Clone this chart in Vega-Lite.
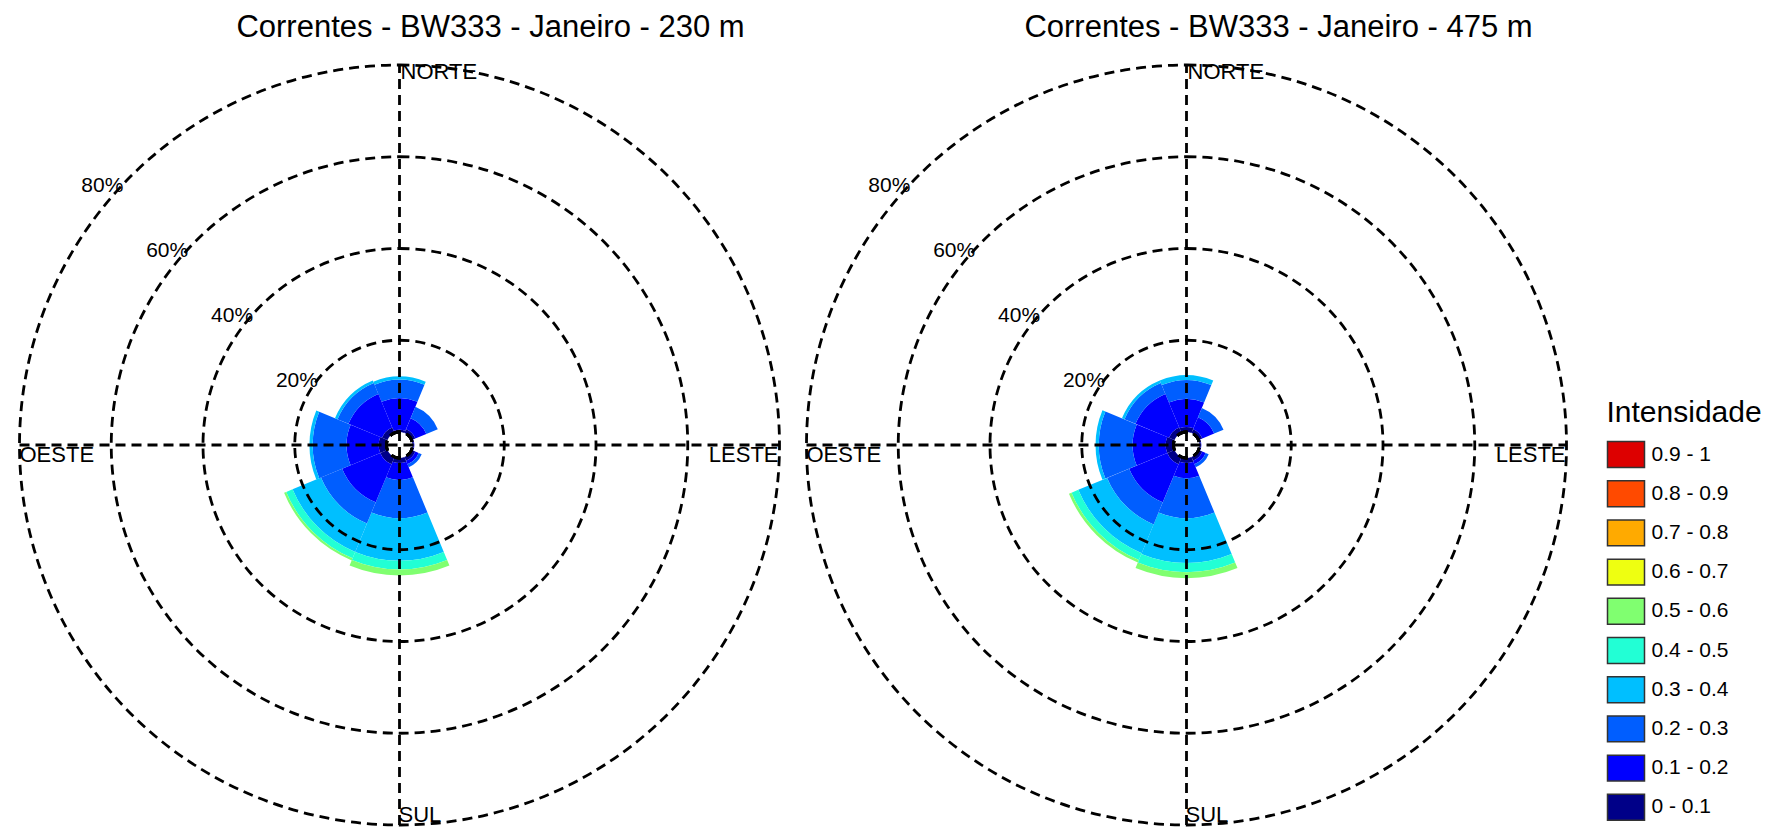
{
  "$schema": "https://vega.github.io/schema/vega-lite/v6.json",
  "background": "white",
  "padding": {"left": 13.5, "top": 11, "right": 0, "bottom": 0},
  "config": {"view": {"stroke": null}, "font": "Liberation Sans"},
  "spacing": 15,
  "resolve": {"scale": {"color": "shared"}},
  "datasets": {
    "rose": [
      {"depth": "230 m", "dir": 0, "cls": "0 - 0.1", "ord": 0, "pct": 0.5},
      {"depth": "230 m", "dir": 0, "cls": "0.1 - 0.2", "ord": 1, "pct": 6.9},
      {"depth": "230 m", "dir": 0, "cls": "0.2 - 0.3", "ord": 2, "pct": 4.0},
      {"depth": "230 m", "dir": 0, "cls": "0.3 - 0.4", "ord": 3, "pct": 0.7},
      {"depth": "230 m", "dir": 45, "cls": "0 - 0.1", "ord": 0, "pct": 0.9},
      {"depth": "230 m", "dir": 45, "cls": "0.1 - 0.2", "ord": 1, "pct": 2.6},
      {"depth": "230 m", "dir": 45, "cls": "0.2 - 0.3", "ord": 2, "pct": 2.7},
      {"depth": "230 m", "dir": 90, "cls": "0 - 0.1", "ord": 0, "pct": 0.3},
      {"depth": "230 m", "dir": 90, "cls": "0.1 - 0.2", "ord": 1, "pct": 0.1},
      {"depth": "230 m", "dir": 135, "cls": "0 - 0.1", "ord": 0, "pct": 0.9},
      {"depth": "230 m", "dir": 135, "cls": "0.1 - 0.2", "ord": 1, "pct": 0.8},
      {"depth": "230 m", "dir": 135, "cls": "0.2 - 0.3", "ord": 2, "pct": 0.7},
      {"depth": "230 m", "dir": 180, "cls": "0 - 0.1", "ord": 0, "pct": 1.1},
      {"depth": "230 m", "dir": 180, "cls": "0.1 - 0.2", "ord": 1, "pct": 3.7},
      {"depth": "230 m", "dir": 180, "cls": "0.2 - 0.3", "ord": 2, "pct": 8.3},
      {"depth": "230 m", "dir": 180, "cls": "0.3 - 0.4", "ord": 3, "pct": 9.3},
      {"depth": "230 m", "dir": 180, "cls": "0.4 - 0.5", "ord": 4, "pct": 1.9},
      {"depth": "230 m", "dir": 180, "cls": "0.5 - 0.6", "ord": 5, "pct": 1.3},
      {"depth": "230 m", "dir": 225, "cls": "0 - 0.1", "ord": 0, "pct": 1.7},
      {"depth": "230 m", "dir": 225, "cls": "0.1 - 0.2", "ord": 1, "pct": 9.0},
      {"depth": "230 m", "dir": 225, "cls": "0.2 - 0.3", "ord": 2, "pct": 5.0},
      {"depth": "230 m", "dir": 225, "cls": "0.3 - 0.4", "ord": 3, "pct": 6.7},
      {"depth": "230 m", "dir": 225, "cls": "0.4 - 0.5", "ord": 4, "pct": 1.5},
      {"depth": "230 m", "dir": 225, "cls": "0.5 - 0.6", "ord": 5, "pct": 0.5},
      {"depth": "230 m", "dir": 270, "cls": "0 - 0.1", "ord": 0, "pct": 1.7},
      {"depth": "230 m", "dir": 270, "cls": "0.1 - 0.2", "ord": 1, "pct": 7.0},
      {"depth": "230 m", "dir": 270, "cls": "0.2 - 0.3", "ord": 2, "pct": 7.4},
      {"depth": "230 m", "dir": 270, "cls": "0.3 - 0.4", "ord": 3, "pct": 0.7},
      {"depth": "230 m", "dir": 315, "cls": "0 - 0.1", "ord": 0, "pct": 1.3},
      {"depth": "230 m", "dir": 315, "cls": "0.1 - 0.2", "ord": 1, "pct": 7.9},
      {"depth": "230 m", "dir": 315, "cls": "0.2 - 0.3", "ord": 2, "pct": 2.6},
      {"depth": "230 m", "dir": 315, "cls": "0.3 - 0.4", "ord": 3, "pct": 0.6},
      {"depth": "475 m", "dir": 0, "cls": "0 - 0.1", "ord": 0, "pct": 1.1},
      {"depth": "475 m", "dir": 0, "cls": "0.1 - 0.2", "ord": 1, "pct": 6.1},
      {"depth": "475 m", "dir": 0, "cls": "0.2 - 0.3", "ord": 2, "pct": 4.1},
      {"depth": "475 m", "dir": 0, "cls": "0.3 - 0.4", "ord": 3, "pct": 1.1},
      {"depth": "475 m", "dir": 45, "cls": "0 - 0.1", "ord": 0, "pct": 0.9},
      {"depth": "475 m", "dir": 45, "cls": "0.1 - 0.2", "ord": 1, "pct": 2.8},
      {"depth": "475 m", "dir": 45, "cls": "0.2 - 0.3", "ord": 2, "pct": 2.2},
      {"depth": "475 m", "dir": 90, "cls": "0 - 0.1", "ord": 0, "pct": 0.3},
      {"depth": "475 m", "dir": 90, "cls": "0.1 - 0.2", "ord": 1, "pct": 0.1},
      {"depth": "475 m", "dir": 135, "cls": "0 - 0.1", "ord": 0, "pct": 0.9},
      {"depth": "475 m", "dir": 135, "cls": "0.1 - 0.2", "ord": 1, "pct": 0.8},
      {"depth": "475 m", "dir": 135, "cls": "0.2 - 0.3", "ord": 2, "pct": 0.7},
      {"depth": "475 m", "dir": 180, "cls": "0 - 0.1", "ord": 0, "pct": 1.1},
      {"depth": "475 m", "dir": 180, "cls": "0.1 - 0.2", "ord": 1, "pct": 3.3},
      {"depth": "475 m", "dir": 180, "cls": "0.2 - 0.3", "ord": 2, "pct": 8.7},
      {"depth": "475 m", "dir": 180, "cls": "0.3 - 0.4", "ord": 3, "pct": 9.8},
      {"depth": "475 m", "dir": 180, "cls": "0.4 - 0.5", "ord": 4, "pct": 2.0},
      {"depth": "475 m", "dir": 180, "cls": "0.5 - 0.6", "ord": 5, "pct": 1.3},
      {"depth": "475 m", "dir": 225, "cls": "0 - 0.1", "ord": 0, "pct": 1.7},
      {"depth": "475 m", "dir": 225, "cls": "0.1 - 0.2", "ord": 1, "pct": 9.0},
      {"depth": "475 m", "dir": 225, "cls": "0.2 - 0.3", "ord": 2, "pct": 5.2},
      {"depth": "475 m", "dir": 225, "cls": "0.3 - 0.4", "ord": 3, "pct": 6.8},
      {"depth": "475 m", "dir": 225, "cls": "0.4 - 0.5", "ord": 4, "pct": 1.6},
      {"depth": "475 m", "dir": 225, "cls": "0.5 - 0.6", "ord": 5, "pct": 0.6},
      {"depth": "475 m", "dir": 270, "cls": "0 - 0.1", "ord": 0, "pct": 1.7},
      {"depth": "475 m", "dir": 270, "cls": "0.1 - 0.2", "ord": 1, "pct": 7.2},
      {"depth": "475 m", "dir": 270, "cls": "0.2 - 0.3", "ord": 2, "pct": 7.4},
      {"depth": "475 m", "dir": 270, "cls": "0.3 - 0.4", "ord": 3, "pct": 0.7},
      {"depth": "475 m", "dir": 315, "cls": "0 - 0.1", "ord": 0, "pct": 1.3},
      {"depth": "475 m", "dir": 315, "cls": "0.1 - 0.2", "ord": 1, "pct": 7.9},
      {"depth": "475 m", "dir": 315, "cls": "0.2 - 0.3", "ord": 2, "pct": 2.6},
      {"depth": "475 m", "dir": 315, "cls": "0.3 - 0.4", "ord": 3, "pct": 0.6}
    ],
    "rings": [
      {"ring": 20, "label": "20%"},
      {"ring": 40, "label": "40%"},
      {"ring": 60, "label": "60%"},
      {"ring": 80, "label": "80%"}
    ],
    "dirs": [
      {"name": "NORTE"}, {"name": "SUL"}, {"name": "LESTE"}, {"name": "OESTE"}
    ]
  },
  "hconcat": [
    {
      "width": 760, "height": 760,
      "title": {"text": "Correntes - BW333 - Janeiro - 230 m", "fontSize": 31, "fontWeight": "normal", "font": "Liberation Sans", "color": "black", "dx": 91, "offset": 15.5, "anchor": "middle"},
      "layer": [
        {
          "data": {"name": "rose"},
          "transform": [
            {"filter": "datum.depth === '230 m'"},
            {"stack": "pct", "groupby": ["dir"], "sort": [{"field": "ord", "order": "ascending"}], "as": ["r0", "r1"]},
            {"calculate": "datum.dir - 22.5", "as": "a0"},
            {"calculate": "datum.dir + 22.5", "as": "a1"}
          ],
          "mark": {"type": "arc", "strokeWidth": 0},
          "encoding": {
            "theta": {"field": "a0", "type": "quantitative", "stack": null, "scale": {"type": "linear", "domain": [0, 360], "range": [0, 6.2832]}},
            "theta2": {"field": "a1"},
            "radius": {"field": "r1", "type": "quantitative", "stack": null, "scale": {"type": "linear", "domain": [0, 80], "range": [13, 380], "zero": false}},
            "radius2": {"field": "r0"},
            "color": {
              "field": "cls", "type": "nominal",
              "scale": {
                "domain": ["0.9 - 1", "0.8 - 0.9", "0.7 - 0.8", "0.6 - 0.7", "0.5 - 0.6", "0.4 - 0.5", "0.3 - 0.4", "0.2 - 0.3", "0.1 - 0.2", "0 - 0.1"],
                "range": ["#DD0000", "#FF4A00", "#FFAA00", "#EEFF11", "#80FF70", "#22FFD5", "#00BFFF", "#005EFF", "#0000FF", "#000088"]
              },
              "legend": {"orient": "none", "legendX": 1587, "legendY": 333, "title": "Intensidade", "titleFontSize": 30, "titleFontWeight": "normal", "titleFont": "Liberation Sans", "titleColor": "black", "titlePadding": 7, "labelFontSize": 21, "labelFont": "Liberation Sans", "labelColor": "black", "labelOffset": 6, "symbolType": "M-1,-0.7H1V0.7H-1Z", "symbolSize": 1369, "symbolStrokeColor": "#333333", "symbolStrokeWidth": 1.5, "symbolOpacity": 1, "rowPadding": 3.2, "padding": 0, "labelLimit": 300, "titleLimit": 300}
            }
          }
        },
        {
          "data": {"name": "rings"},
          "mark": {"type": "arc", "filled": false, "stroke": "black", "strokeWidth": 2.8, "strokeDash": [10, 6]},
          "encoding": {
            "theta": {"datum": 0, "type": "quantitative", "stack": null, "scale": {"type": "linear", "domain": [0, 360], "range": [0, 6.2832]}},
            "theta2": {"datum": 360},
            "radius": {"field": "ring", "type": "quantitative", "stack": null, "scale": {"type": "linear", "domain": [0, 80], "range": [13, 380], "zero": false}}
          }
        },
        {
          "data": {"values": [{}]},
          "mark": {"type": "rule", "stroke": "black", "strokeWidth": 2.8, "strokeDash": [10, 6]},
          "encoding": {
            "x": {"datum": -1, "type": "quantitative", "scale": {"domain": [-1, 1]}, "axis": null},
            "x2": {"datum": 1},
            "y": {"datum": 0, "type": "quantitative", "scale": {"domain": [-1, 1]}, "axis": null}
          }
        },
        {
          "data": {"values": [{}]},
          "mark": {"type": "rule", "stroke": "black", "strokeWidth": 2.8, "strokeDash": [10, 6]},
          "encoding": {
            "x": {"datum": 0, "type": "quantitative", "scale": {"domain": [-1, 1]}, "axis": null},
            "y": {"datum": -1, "type": "quantitative", "scale": {"domain": [-1, 1]}, "axis": null},
            "y2": {"datum": 1}
          }
        },
        {
          "data": {"values": [{}]},
          "mark": {"type": "arc", "fill": "white", "strokeWidth": 0},
          "encoding": {
            "theta": {"datum": 0, "type": "quantitative", "stack": null, "scale": {"type": "linear", "domain": [0, 360], "range": [0, 6.2832]}},
            "theta2": {"datum": 360},
            "radius": {"datum": 0, "type": "quantitative", "stack": null, "scale": {"type": "linear", "domain": [0, 80], "range": [13, 380], "zero": false}}
          }
        },
        {
          "data": {"name": "rings"},
          "mark": {"type": "text", "align": "right", "baseline": "middle", "dx": -7.5, "dy": 10, "fontSize": 21, "color": "black"},
          "encoding": {
            "theta": {"datum": 315, "type": "quantitative", "scale": {"type": "linear", "domain": [0, 360], "range": [0, 6.2832]}},
            "radius": {"field": "ring", "type": "quantitative", "scale": {"type": "linear", "domain": [0, 80], "range": [13, 380], "zero": false}},
            "text": {"field": "label"}
          }
        },
        {
          "data": {"name": "dirs"},
          "transform": [{"filter": "datum.name === 'NORTE'"}],
          "mark": {"type": "text", "align": "left", "baseline": "top", "dx": 1, "dy": -3, "fontSize": 22, "color": "black"},
          "encoding": {
            "theta": {"datum": 0, "type": "quantitative", "scale": {"type": "linear", "domain": [0, 360], "range": [0, 6.2832]}},
            "radius": {"datum": 80, "type": "quantitative", "scale": {"type": "linear", "domain": [0, 80], "range": [13, 380], "zero": false}},
            "text": {"field": "name"}
          }
        },
        {
          "data": {"name": "dirs"},
          "transform": [{"filter": "datum.name === 'SUL'"}],
          "mark": {"type": "text", "align": "left", "baseline": "bottom", "dx": -1, "dy": 1.5, "fontSize": 22, "color": "black"},
          "encoding": {
            "theta": {"datum": 180, "type": "quantitative", "scale": {"type": "linear", "domain": [0, 360], "range": [0, 6.2832]}},
            "radius": {"datum": 80, "type": "quantitative", "scale": {"type": "linear", "domain": [0, 80], "range": [13, 380], "zero": false}},
            "text": {"field": "name"}
          }
        },
        {
          "data": {"name": "dirs"},
          "transform": [{"filter": "datum.name === 'LESTE'"}],
          "mark": {"type": "text", "align": "right", "baseline": "top", "dx": -1, "dy": 0, "fontSize": 22, "color": "black"},
          "encoding": {
            "theta": {"datum": 90, "type": "quantitative", "scale": {"type": "linear", "domain": [0, 360], "range": [0, 6.2832]}},
            "radius": {"datum": 80, "type": "quantitative", "scale": {"type": "linear", "domain": [0, 80], "range": [13, 380], "zero": false}},
            "text": {"field": "name"}
          }
        },
        {
          "data": {"name": "dirs"},
          "transform": [{"filter": "datum.name === 'OESTE'"}],
          "mark": {"type": "text", "align": "left", "baseline": "top", "dx": 0, "dy": 0, "fontSize": 22, "color": "black"},
          "encoding": {
            "theta": {"datum": 270, "type": "quantitative", "scale": {"type": "linear", "domain": [0, 360], "range": [0, 6.2832]}},
            "radius": {"datum": 80, "type": "quantitative", "scale": {"type": "linear", "domain": [0, 80], "range": [13, 380], "zero": false}},
            "text": {"field": "name"}
          }
        }
      ]
    },
    {
      "width": 760, "height": 760,
      "title": {"text": "Correntes - BW333 - Janeiro - 475 m", "fontSize": 31, "fontWeight": "normal", "font": "Liberation Sans", "color": "black", "dx": 92, "offset": 15.5, "anchor": "middle"},
      "layer": [
        {
          "data": {"name": "rose"},
          "transform": [
            {"filter": "datum.depth === '475 m'"},
            {"stack": "pct", "groupby": ["dir"], "sort": [{"field": "ord", "order": "ascending"}], "as": ["r0", "r1"]},
            {"calculate": "datum.dir - 22.5", "as": "a0"},
            {"calculate": "datum.dir + 22.5", "as": "a1"}
          ],
          "mark": {"type": "arc", "strokeWidth": 0},
          "encoding": {
            "theta": {"field": "a0", "type": "quantitative", "stack": null, "scale": {"type": "linear", "domain": [0, 360], "range": [0, 6.2832]}},
            "theta2": {"field": "a1"},
            "radius": {"field": "r1", "type": "quantitative", "stack": null, "scale": {"type": "linear", "domain": [0, 80], "range": [13, 380], "zero": false}},
            "radius2": {"field": "r0"},
            "color": {
              "field": "cls", "type": "nominal",
              "scale": {
                "domain": ["0.9 - 1", "0.8 - 0.9", "0.7 - 0.8", "0.6 - 0.7", "0.5 - 0.6", "0.4 - 0.5", "0.3 - 0.4", "0.2 - 0.3", "0.1 - 0.2", "0 - 0.1"],
                "range": ["#DD0000", "#FF4A00", "#FFAA00", "#EEFF11", "#80FF70", "#22FFD5", "#00BFFF", "#005EFF", "#0000FF", "#000088"]
              },
              "legend": {"orient": "none", "legendX": 1587, "legendY": 333, "title": "Intensidade", "titleFontSize": 30, "titleFontWeight": "normal", "titleFont": "Liberation Sans", "titleColor": "black", "titlePadding": 7, "labelFontSize": 21, "labelFont": "Liberation Sans", "labelColor": "black", "labelOffset": 6, "symbolType": "M-1,-0.7H1V0.7H-1Z", "symbolSize": 1369, "symbolStrokeColor": "#333333", "symbolStrokeWidth": 1.5, "symbolOpacity": 1, "rowPadding": 3.2, "padding": 0, "labelLimit": 300, "titleLimit": 300}
            }
          }
        },
        {
          "data": {"name": "rings"},
          "mark": {"type": "arc", "filled": false, "stroke": "black", "strokeWidth": 2.8, "strokeDash": [10, 6]},
          "encoding": {
            "theta": {"datum": 0, "type": "quantitative", "stack": null, "scale": {"type": "linear", "domain": [0, 360], "range": [0, 6.2832]}},
            "theta2": {"datum": 360},
            "radius": {"field": "ring", "type": "quantitative", "stack": null, "scale": {"type": "linear", "domain": [0, 80], "range": [13, 380], "zero": false}}
          }
        },
        {
          "data": {"values": [{}]},
          "mark": {"type": "rule", "stroke": "black", "strokeWidth": 2.8, "strokeDash": [10, 6]},
          "encoding": {
            "x": {"datum": -1, "type": "quantitative", "scale": {"domain": [-1, 1]}, "axis": null},
            "x2": {"datum": 1},
            "y": {"datum": 0, "type": "quantitative", "scale": {"domain": [-1, 1]}, "axis": null}
          }
        },
        {
          "data": {"values": [{}]},
          "mark": {"type": "rule", "stroke": "black", "strokeWidth": 2.8, "strokeDash": [10, 6]},
          "encoding": {
            "x": {"datum": 0, "type": "quantitative", "scale": {"domain": [-1, 1]}, "axis": null},
            "y": {"datum": -1, "type": "quantitative", "scale": {"domain": [-1, 1]}, "axis": null},
            "y2": {"datum": 1}
          }
        },
        {
          "data": {"values": [{}]},
          "mark": {"type": "arc", "fill": "white", "strokeWidth": 0},
          "encoding": {
            "theta": {"datum": 0, "type": "quantitative", "stack": null, "scale": {"type": "linear", "domain": [0, 360], "range": [0, 6.2832]}},
            "theta2": {"datum": 360},
            "radius": {"datum": 0, "type": "quantitative", "stack": null, "scale": {"type": "linear", "domain": [0, 80], "range": [13, 380], "zero": false}}
          }
        },
        {
          "data": {"name": "rings"},
          "mark": {"type": "text", "align": "right", "baseline": "middle", "dx": -7.5, "dy": 10, "fontSize": 21, "color": "black"},
          "encoding": {
            "theta": {"datum": 315, "type": "quantitative", "scale": {"type": "linear", "domain": [0, 360], "range": [0, 6.2832]}},
            "radius": {"field": "ring", "type": "quantitative", "scale": {"type": "linear", "domain": [0, 80], "range": [13, 380], "zero": false}},
            "text": {"field": "label"}
          }
        },
        {
          "data": {"name": "dirs"},
          "transform": [{"filter": "datum.name === 'NORTE'"}],
          "mark": {"type": "text", "align": "left", "baseline": "top", "dx": 1, "dy": -3, "fontSize": 22, "color": "black"},
          "encoding": {
            "theta": {"datum": 0, "type": "quantitative", "scale": {"type": "linear", "domain": [0, 360], "range": [0, 6.2832]}},
            "radius": {"datum": 80, "type": "quantitative", "scale": {"type": "linear", "domain": [0, 80], "range": [13, 380], "zero": false}},
            "text": {"field": "name"}
          }
        },
        {
          "data": {"name": "dirs"},
          "transform": [{"filter": "datum.name === 'SUL'"}],
          "mark": {"type": "text", "align": "left", "baseline": "bottom", "dx": -1, "dy": 1.5, "fontSize": 22, "color": "black"},
          "encoding": {
            "theta": {"datum": 180, "type": "quantitative", "scale": {"type": "linear", "domain": [0, 360], "range": [0, 6.2832]}},
            "radius": {"datum": 80, "type": "quantitative", "scale": {"type": "linear", "domain": [0, 80], "range": [13, 380], "zero": false}},
            "text": {"field": "name"}
          }
        },
        {
          "data": {"name": "dirs"},
          "transform": [{"filter": "datum.name === 'LESTE'"}],
          "mark": {"type": "text", "align": "right", "baseline": "top", "dx": -1, "dy": 0, "fontSize": 22, "color": "black"},
          "encoding": {
            "theta": {"datum": 90, "type": "quantitative", "scale": {"type": "linear", "domain": [0, 360], "range": [0, 6.2832]}},
            "radius": {"datum": 80, "type": "quantitative", "scale": {"type": "linear", "domain": [0, 80], "range": [13, 380], "zero": false}},
            "text": {"field": "name"}
          }
        },
        {
          "data": {"name": "dirs"},
          "transform": [{"filter": "datum.name === 'OESTE'"}],
          "mark": {"type": "text", "align": "left", "baseline": "top", "dx": 0, "dy": 0, "fontSize": 22, "color": "black"},
          "encoding": {
            "theta": {"datum": 270, "type": "quantitative", "scale": {"type": "linear", "domain": [0, 360], "range": [0, 6.2832]}},
            "radius": {"datum": 80, "type": "quantitative", "scale": {"type": "linear", "domain": [0, 80], "range": [13, 380], "zero": false}},
            "text": {"field": "name"}
          }
        }
      ]
    }
  ]
}
